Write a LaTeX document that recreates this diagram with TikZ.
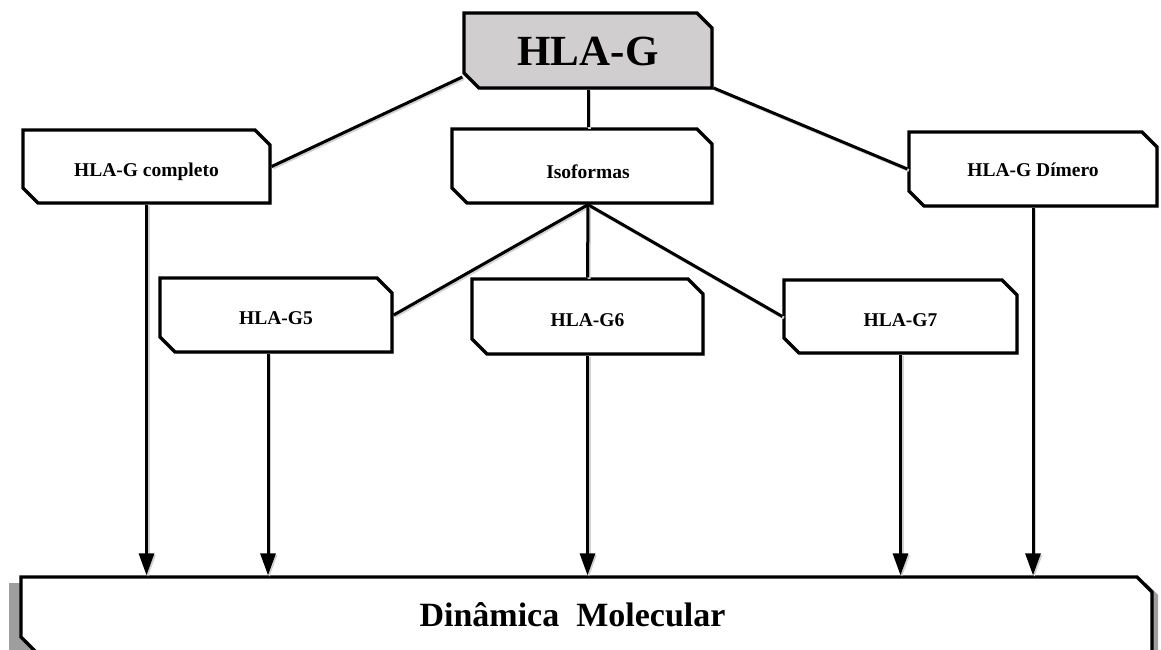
\documentclass[tikz,border=0pt]{standalone}
\usepackage{fontspec}
\setmainfont{Liberation Serif}
\usetikzlibrary{shapes.misc,shadows,arrows.meta,calc}
\definecolor{boxgray}{RGB}{208,206,206}
\tikzset{
  chbox/.style={chamfered rectangle, chamfered rectangle corners={north east,south west},
    chamfered rectangle xsep=7.5pt, chamfered rectangle ysep=7.5pt,
    draw=black, line width=3.3pt, fill=white, inner sep=0pt, text depth=0pt, text height=19pt,
    font=\bfseries\fontsize{19.5}{22}\selectfont,
    drop shadow={opacity=0.25, shadow xshift=2pt, shadow yshift=-2pt}},
  conn/.style={line width=3pt, draw=black,
    preaction={draw=black!18, line width=3pt, transform canvas={xshift=1.5pt,yshift=-1.5pt}}},
  arr/.style={conn, -{Triangle[width=15pt,length=22pt]}}
}
\begin{document}
\begin{tikzpicture}[x=1pt,y=-1pt]
\useasboundingbox (0,0) rectangle (1161,649);
% bottom box shadow
\fill[black!38] (9,583) -- (1146,583) -- (1158,595) -- (1158,670) -- (9,670) -- cycle;
\node[chbox, drop shadow={opacity=0}, minimum width=1131pt, minimum height=75pt, text height=24pt,
  font=\bfseries\fontsize{34}{40}\selectfont] (dm) at (586.5,614.5) {\hspace*{-28pt}Dinâmica\ \ Molecular};

\node[chbox, fill=boxgray, minimum width=248pt, minimum height=75pt, text height=30pt,
  font=\bfseries\fontsize{43}{48}\selectfont] (hla) at (588,50.5) {HLA-G};
\node[chbox, minimum width=247pt, minimum height=73pt] (comp) at (146.5,166.5) {HLA-G completo};
\node[chbox, minimum width=260pt, minimum height=74pt, text height=24pt] (iso) at (582,166) {\hspace*{12pt}Isoformas};
\node[chbox, minimum width=248pt, minimum height=74pt, text height=15pt] (dim) at (1033,169) {HLA-G Dímero};
\node[chbox, minimum width=232pt, minimum height=74pt] (g5) at (276,315) {HLA-G5};
\node[chbox, minimum width=231pt, minimum height=75pt] (g6) at (587.5,316.5) {HLA-G6};
\node[chbox, minimum width=233pt, minimum height=73pt] (g7) at (900.5,316.5) {HLA-G7};

% connectors
\draw[conn] ([yshift=-26.5pt]hla.west) -- (comp.east);
\draw[conn] ([yshift=-37.5pt]hla.east) -- (dim.west);
\draw[conn] (hla.south) -- (hla.south |- iso.north);
\coordinate (isob) at ([xshift=6pt]iso.south);
\draw[conn] (isob) -- (g5.east);
\draw[conn] (isob) -- (g6.north);
\draw[conn] (isob) -- (g7.west);

% arrows
\draw[arr] (comp.south) -- (comp.south |- dm.north);
\coordinate (g5b) at ([xshift=-8pt]g5.south);
\draw[arr] (g5b) -- (g5b |- dm.north);
\draw[arr] (g6.south) -- (g6.south |- dm.north);
\draw[arr] (g7.south) -- (g7.south |- dm.north);
\draw[arr] (dim.south) -- (dim.south |- dm.north);
\end{tikzpicture}
\end{document}
